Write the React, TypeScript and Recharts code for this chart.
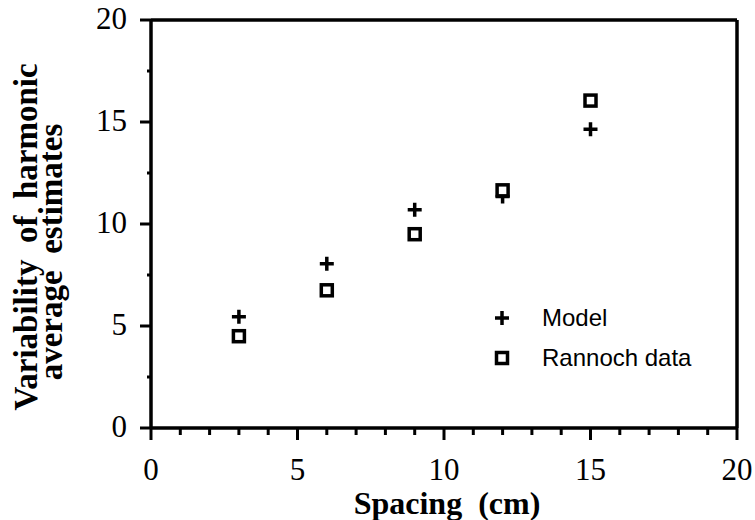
import React from 'react';
import { ScatterChart, Scatter, XAxis, YAxis, ReferenceLine, Legend, Label } from 'recharts';

// values
const spacing = [3, 6, 9, 12, 15];
const modelValues = [5.45, 8.05, 10.7, 11.35, 14.65];
const rannochValues = [4.5, 6.75, 9.5, 11.65, 16.05];

const xTicks = [0, 1, 2, 3, 4, 5, 6, 7, 8, 9, 10, 11, 12, 13, 14, 15, 16, 17, 18, 19, 20];
const yTicks = [0, 2.5, 5, 7.5, 10, 12.5, 15, 17.5, 20];
const majorStep = 5;

const modelData = spacing.map((x, i) => ({ x, y: modelValues[i] }));
const rannochData = spacing.map((x, i) => ({ x, y: rannochValues[i] }));

const SERIF = '"Liberation Serif", "Times New Roman", serif';
const SANS = '"Liberation Sans", Arial, Helvetica, sans-serif';

const PlusMark = ({ cx, cy }: any) => (
    <path d={`M${cx - 7},${cy}H${cx + 7}M${cx},${cy - 7}V${cy + 7}`} stroke="#000" strokeWidth={3.5} fill="none" />
);

const SquareMark = ({ cx, cy }: any) => (
    <rect x={cx - 5.5} y={cy - 5.5} width={11} height={11} stroke="#000" strokeWidth={3.5} fill="#fff" />
);

const XTick = (props: any) => {
    const { x, y, payload } = props;
    const major = payload.value % majorStep === 0;
    return (
        <g>
            <line x1={x} y1={y} x2={x} y2={y + (major ? 12 : 7)} stroke="#000" strokeWidth={3} />
            {major && (
                <text x={x} y={y + 52} textAnchor="middle" fontSize={31} fontFamily={SERIF} fill="#000">
                    {payload.value}
                </text>
            )}
        </g>
    );
};

const YTick = (props: any) => {
    const { x, y, payload } = props;
    const major = payload.value % majorStep === 0;
    return (
        <g>
            <line x1={x} y1={y} x2={x - (major ? 11 : 4)} y2={y} stroke="#000" strokeWidth={3} />
            {major && (
                <text x={x - 24} y={y + 9} textAnchor="end" fontSize={31} fontFamily={SERIF} fill="#000">
                    {payload.value}
                </text>
            )}
        </g>
    );
};

const YTitle = ({ viewBox }: any) => {
    const mid = viewBox.y + viewBox.height / 2;
    const style = { whiteSpace: 'pre' as const };
    return (
        <g fontFamily={SERIF} fontWeight="bold" fontSize={33} fill="#000">
            <text x={37} y={mid + 13} textAnchor="middle" transform={`rotate(-90, 37, ${mid + 13})`} style={style}>
                {'Variability  of  harmonic'}
            </text>
            <text x={62} y={mid + 28} textAnchor="middle" transform={`rotate(-90, 62, ${mid + 28})`} style={style}>
                {'average  estimates'}
            </text>
        </g>
    );
};

const XTitle = ({ viewBox }: any) => (
    <text
        x={viewBox.x + viewBox.width / 2 + 3}
        y={viewBox.y + 86}
        textAnchor="middle"
        fontFamily={SERIF}
        fontWeight="bold"
        fontSize={32}
        fill="#000"
        style={{ whiteSpace: 'pre' }}
    >
        {'Spacing  (cm)'}
    </text>
);

const LegendBox = ({ payload }: any) => (
    <div style={{ fontFamily: SANS, fontSize: 24, color: '#000' }}>
        {(payload || []).map((item: any) => (
            <div key={item.value} style={{ display: 'flex', alignItems: 'center', height: 40 }}>
                <svg width={24} height={24}>
                    {item.value === 'Model' ? <PlusMark cx={12} cy={12} /> : <SquareMark cx={12} cy={12} />}
                </svg>
                <span style={{ marginLeft: 28 }}>{item.value}</span>
            </div>
        ))}
    </div>
);

export default function App() {
    return (
        <div style={{ width: 755, height: 520, background: '#fff' }}>
            <style>{'body{margin:0;}'}</style>
            <ScatterChart width={755} height={520} margin={{ top: 20, right: 18, bottom: 0, left: 0 }}>
                <XAxis
                    type="number"
                    dataKey="x"
                    domain={[0, 20]}
                    ticks={xTicks}
                    interval={0}
                    height={92}
                    tickSize={0}
                    tickMargin={0}
                    tickLine={false}
                    tick={<XTick />}
                    axisLine={{ stroke: '#000', strokeWidth: 3.5 }}
                    allowDataOverflow
                >
                    <Label content={XTitle} />
                </XAxis>
                <YAxis
                    type="number"
                    dataKey="y"
                    domain={[0, 20]}
                    ticks={yTicks}
                    interval={0}
                    width={151}
                    tickSize={0}
                    tickMargin={0}
                    tickLine={false}
                    tick={<YTick />}
                    axisLine={{ stroke: '#000', strokeWidth: 3.5 }}
                    allowDataOverflow
                >
                    <Label content={YTitle} />
                </YAxis>
                <ReferenceLine y={20} stroke="#000" strokeWidth={3.5} />
                <ReferenceLine x={20} stroke="#000" strokeWidth={3.5} />
                <Scatter name="Model" data={modelData} shape={PlusMark} isAnimationActive={false} />
                <Scatter name="Rannoch data" data={rannochData} shape={SquareMark} isAnimationActive={false} />
                <Legend
                    layout="vertical"
                    align="center"
                    verticalAlign="middle"
                    content={LegendBox}
                    wrapperStyle={{ top: 298, left: 490, width: 'auto' }}
                />
            </ScatterChart>
        </div>
    );
}
